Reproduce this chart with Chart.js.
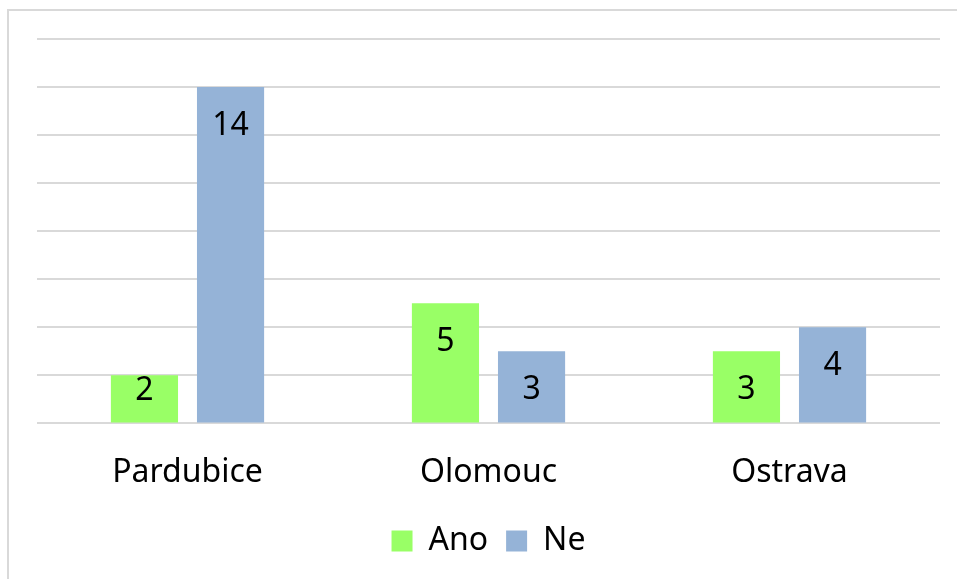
<!DOCTYPE html>
<html>
<head>
<meta charset="utf-8">
<script src="https://cdn.jsdelivr.net/npm/chart.js@4"></script>
<style>
  html, body { margin: 0; padding: 0; background: #fff; overflow: hidden; }
  #frame { position: absolute; left: 7px; top: 9px; width: 1000px; height: 700px;
           border-top: 2px solid #d9d9d9; border-left: 2px solid #d9d9d9; }
  #wrap { position: absolute; left: 0; top: 0; width: 957px; height: 579px; }
</style>
</head>
<body>
<div id="frame"></div>
<div id="wrap"><canvas id="chart1"></canvas></div>
<script>
const ctx1 = document.getElementById('chart1').getContext('2d');

// cities on the x axis
const cities = ['Pardubice', 'Olomouc', 'Ostrava'];
// answer counts
const ano_values = [2, 5, 3];
const ne_values = [14, 3, 4];

const FONT = '"Noto Sans", "Open Sans", sans-serif';

// value labels inside the top of each bar
const barLabels = {
  id: 'barLabels',
  afterDatasetsDraw(chart) {
    const c = chart.ctx;
    c.save();
    c.font = '32px ' + FONT;
    c.fillStyle = '#000';
    c.textAlign = 'center';
    c.textBaseline = 'middle';
    chart.data.datasets.forEach((ds, i) => {
      chart.getDatasetMeta(i).data.forEach((bar, j) => {
        const h = bar.base - bar.y;
        // short bars get the label pushed up near the top
        const y = h >= 60 ? bar.y + 39 : bar.y + 16;
        c.fillText(String(ds.data[j]), bar.x, y);
      });
    });
    c.restore();
  }
};

new Chart(ctx1, {
  type: 'bar',
  data: {
    labels: cities,
    datasets: [
      {
        label: 'Ano',
        backgroundColor: 'rgb(153, 255, 102)', // green
        data: ano_values,
        categoryPercentage: 0.572,
        barPercentage: 0.78,
      },
      {
        label: 'Ne',
        backgroundColor: 'rgb(149, 179, 215)', // blue
        data: ne_values,
        categoryPercentage: 0.572,
        barPercentage: 0.78,
      },
    ],
  },
  options: {
    responsive: true,
    maintainAspectRatio: false,
    animation: false,
    layout: { padding: { left: 37, right: 17, top: 39, bottom: 12 } },
    scales: {
      x: {
        grid: { display: false, drawTicks: false },
        border: { display: false },
        ticks: { color: '#000', font: { family: FONT, size: 32, lineHeight: 0.05 }, padding: 49 },
        afterFit: (scale) => { scale.height -= 16; }, // pull legend closer to labels
      },
      y: {
        min: 0,
        max: 16,
        ticks: { display: false, stepSize: 2 },
        grid: { color: '#d9d9d9', lineWidth: 2, drawTicks: false },
        border: { display: false },
      },
    },
    plugins: {
      legend: {
        position: 'bottom',
        labels: {
          color: '#000',
          font: { family: FONT, size: 32 },
          boxWidth: 21,
          boxHeight: 21,
          padding: 18,
        },
      },
      tooltip: { enabled: false },
    },
  },
  plugins: [barLabels],
});
</script>
</body>
</html>
